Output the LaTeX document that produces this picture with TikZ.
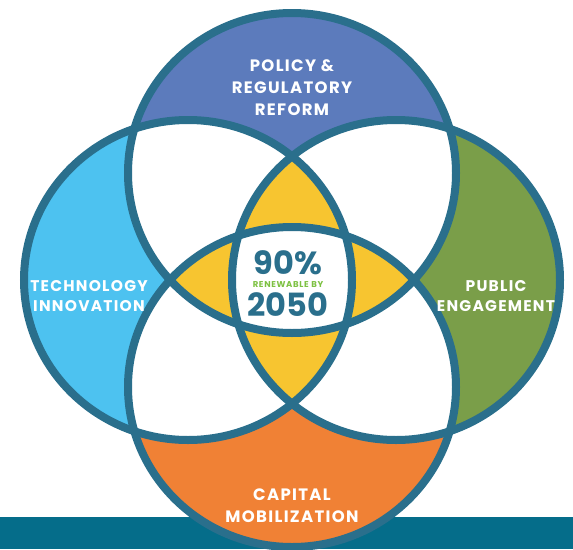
\documentclass[tikz,border=0pt]{standalone}
\usepackage{fontspec}
\setmainfont{Poppins}
\newfontfamily\capsfont{Poppins}[LetterSpace=8]
\definecolor{ring}{RGB}{42,111,140}
\definecolor{policyblue}{RGB}{92,123,188}
\definecolor{techblue}{RGB}{77,194,240}
\definecolor{publicgreen}{RGB}{122,158,73}
\definecolor{capitalorange}{RGB}{240,129,53}
\definecolor{coreyellow}{RGB}{247,197,48}
\definecolor{barteal}{RGB}{5,109,138}
\definecolor{renewgreen}{RGB}{125,193,66}

\begin{document}
\begin{tikzpicture}[x=1pt,y=-1pt,
  lbl/.style={text=white,font=\capsfont\fontsize{16.5}{22}\selectfont\bfseries,align=center,inner sep=0pt},
  sidelbl/.style={lbl,font=\capsfont\fontsize{15.5}{20}\selectfont\bfseries},
  ringline/.style={draw=ring,line width=8pt}]
\useasboundingbox (0,0) rectangle (573,549);
\fill[barteal] (0,517) rectangle (573,549);
\def\cT{(292,173) ellipse [x radius=164,y radius=160]}
\def\cB{(292,387) ellipse [x radius=164,y radius=160]}
\def\cL{(188,280) ellipse [x radius=164,y radius=160]}
\def\cR{(396,280) ellipse [x radius=164,y radius=160]}
\fill[policyblue] \cT;
\fill[capitalorange] \cB;
\fill[techblue] \cL;
\fill[publicgreen] \cR;
% two circles: white
\begin{scope}\clip \cT; \fill[white] \cL; \fill[white] \cR; \end{scope}
\begin{scope}\clip \cB; \fill[white] \cL; \fill[white] \cR; \end{scope}
% three circles: yellow
\begin{scope}\clip \cL; \clip \cR; \fill[coreyellow] \cT; \fill[coreyellow] \cB; \end{scope}
\begin{scope}\clip \cT; \clip \cB; \fill[coreyellow] \cL; \fill[coreyellow] \cR; \end{scope}
% all four: white
\begin{scope}\clip \cT; \clip \cB; \clip \cL; \fill[white] \cR; \end{scope}
\draw[ringline] \cT;
\draw[ringline] \cB;
\draw[ringline] \cL;
\draw[ringline] \cR;
\node[lbl] (policy) at (292,88) {POLICY \&\\REGULATORY\\REFORM};
\node[sidelbl] (tech) at (89,296) {TECHNOLOGY\\INNOVATION};
\node[sidelbl] (public) at (496,296) {PUBLIC\\ENGAGEMENT};
\node[lbl] (capital) at (292,506) {CAPITAL\\MOBILIZATION};
\node[text=ring,font=\fontsize{32}{32}\selectfont\bfseries,inner sep=0pt] (pct) at (288,262.5) {90\%};
\node[text=renewgreen,font=\capsfont\fontsize{8.5}{9}\selectfont\bfseries,inner sep=0pt] (renew) at (288,284.5) {RENEWABLE BY};
\node[text=ring,font=\fontsize{32}{32}\selectfont\bfseries,inner sep=0pt] (year) at (288,304.5) {2050};
\end{tikzpicture}
\end{document}
